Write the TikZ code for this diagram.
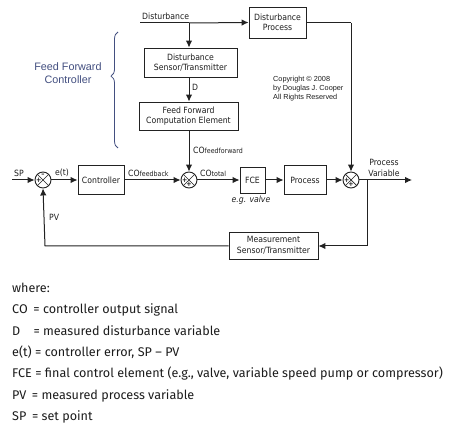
\documentclass[tikz,border=0pt]{standalone}
\usepackage{fontspec}
\setmainfont{DejaVu Sans Condensed}
\newfontfamily\legfont{Fira Sans}
\newfontfamily\fffont{Liberation Sans}
\usetikzlibrary{arrows.meta,decorations.pathreplacing}
\definecolor{linec}{HTML}{222222}
\definecolor{txtc}{HTML}{1E1E1E}
\definecolor{ffc}{HTML}{434F80}
\definecolor{legc}{HTML}{1C1C1C}
\begin{document}
\begin{tikzpicture}[x=1pt,y=-1pt,
  line/.style={draw=linec, line width=1pt},
  arr/.style={line, -{Latex[length=7pt,width=6.5pt]}},
  blk/.style={draw=linec, line width=0.9pt, align=center, font=\fontsize{8.6}{10.5}\selectfont, inner sep=0pt, text=txtc},
  sumj/.style={circle, draw=linec, line width=0.9pt, minimum size=16pt, inner sep=0pt},
  lbl/.style={font=\fontsize{8.6}{10.5}\selectfont, text=txtc, inner sep=0pt},
  sgn/.style={font=\fontsize{7}{7}\selectfont\bfseries, text=txtc, inner sep=0pt},
  leg/.style={font=\legfont\fontsize{12.6}{14}\selectfont, text=legc, inner sep=0pt, anchor=base west}
]
\useasboundingbox (0,0) rectangle (474,430);
\fill[white] (0,0) rectangle (474,430);

% blocks
\node[blk, minimum width=57pt, minimum height=31pt] (dp) at (277.5,22.5) {Disturbance\\Process};
\node[blk, minimum width=93pt, minimum height=29pt] (ds) at (190.5,62.5) {Disturbance\\Sensor/Transmitter};
\node[blk, minimum width=99pt, minimum height=28pt] (ff) at (188.5,116) {Feed Forward\\Computation Element};
\node[blk, minimum width=46pt, minimum height=29pt] (ctrl) at (101,180) {Controller};
\node[blk, minimum width=25pt, minimum height=26pt] (fce) at (252.5,180) {FCE};
\node[blk, minimum width=42pt, minimum height=29pt] (proc) at (305,180) {Process};
\node[blk, minimum width=89pt, minimum height=27pt] (meas) at (273.5,245.5) {Measurement\\Sensor/Transmitter};

% summing junctions
\node[sumj] (s1) at (43,180) {};
\node[sumj] (s2) at (189,180) {};
\node[sumj] (s3) at (351,180) {};
\foreach \s in {s1,s2,s3}{
  \draw[linec, line width=0.7pt] (\s.north west) -- (\s.south east);
  \draw[linec, line width=0.7pt] (\s.north east) -- (\s.south west);
}
\node[sgn] (s1p) at ([xshift=-4.3pt]s1.center) {+};
\node[sgn] (s1m) at ([yshift=4.3pt]s1.center) {–};
\node[sgn] (s2p) at ([xshift=-4.3pt]s2.center) {+};
\node[sgn] (s2t) at ([yshift=-4.3pt]s2.center) {+};
\node[sgn] (s3p) at ([xshift=-4.3pt]s3.center) {+};
\node[sgn] (s3t) at ([yshift=-4.3pt]s3.center) {+};

% coordinates
\coordinate (dstart) at (140,23);
\coordinate (dtap) at (189,23);
\coordinate (spstart) at (12,180);
\coordinate (pvtap) at (367,180);
\coordinate (pvend) at (412,180);
\coordinate (dpcorner) at (351,23);
\coordinate (fbcorner1) at (367,246);
\coordinate (fbcorner2) at (45,246);

% texts
\node[lbl, anchor=south west] (dist) at (142,20) {Disturbance};
\node[lbl, anchor=south] (sp) at (19,177) {SP};
\node[lbl, anchor=south] (et) at (62,177) {e(t)};
\node[lbl, anchor=south west] (cofb) at (128,177) {CO{\fontsize{7}{7}\selectfont feedback}};
\node[lbl, anchor=south west] (cotot) at (200,177) {CO{\fontsize{7}{7}\selectfont total}};
\node[lbl, anchor=west] (coff) at (193,150) {CO{\fontsize{7}{7}\selectfont feedforward}};
\node[lbl, anchor=west] (dlab) at (192,87) {D};
\node[lbl, anchor=west] (pvlab) at (49,217) {PV};
\node[lbl, font=\itshape\fontsize{8.6}{10}\selectfont] (egv) at (251,200) {e.g. valve};
\node[lbl, align=center] (pvar) at (384,168) {Process\\Variable};
\node[lbl, align=left, anchor=north west, font=\fffont\fontsize{7.3}{9}\selectfont] (copy) at (273,76) {Copyright \textcopyright{} 2008\\by Douglas J. Cooper\\All Rights Reserved};

% feed forward controller brace
\node[align=center, text=ffc, font=\fffont\fontsize{10.8}{13.5}\selectfont, inner sep=0pt] (ffl) at (68,73) {Feed Forward\\Controller};
\draw[ffc, line width=0.8pt, decorate, decoration={brace, mirror, amplitude=7pt, aspect=0.38}] (118,32) -- (118,148);

% connectors
\draw[line] (dstart) -- (dtap);
\draw[arr] (dtap) -- (dp.west);
\draw[arr] (dtap) -- (ds.north -| dtap);
\draw[arr] (ds.south -| dtap) -- (ff.north -| dtap);
\draw[arr] (ff.south -| s2) -- (s2.north);
\draw[line] (dp.east |- dpcorner) -- (dpcorner);
\draw[arr] (dpcorner) -- (s3.north);
\draw[arr] (spstart) -- (s1.west);
\draw[arr] (s1.east) -- (ctrl.west);
\draw[arr] (ctrl.east) -- (s2.west);
\draw[arr] (s2.east) -- (fce.west);
\draw[arr] (fce.east) -- (proc.west);
\draw[arr] (proc.east) -- (s3.west);
\draw[arr] (s3.east) -- (pvend);
\draw[arr] (pvtap) -- (fbcorner1) -- (meas.east |- fbcorner1);
\draw[arr] (meas.west |- fbcorner2) -- (fbcorner2) -- (s1.south);

% legend
\node[leg] (l0) at (12,292.5) {where:};
\node[leg] (l1) at (12,314) {CO\hspace{0.45em}= controller output signal};
\node[leg] (l2) at (12,335.3) {D\hspace{1.05em}= measured disturbance variable};
\node[leg] (l3) at (12,356.6) {e(t) = controller error, SP – PV};
\node[leg] (l4) at (12,377.9) {FCE = final control element (e.g., valve, variable speed pump or compressor)};
\node[leg] (l5) at (12,399.2) {PV\hspace{0.45em}= measured process variable};
\node[leg] (l6) at (12,420.5) {SP\hspace{0.45em}= set point};
\end{tikzpicture}
\end{document}
